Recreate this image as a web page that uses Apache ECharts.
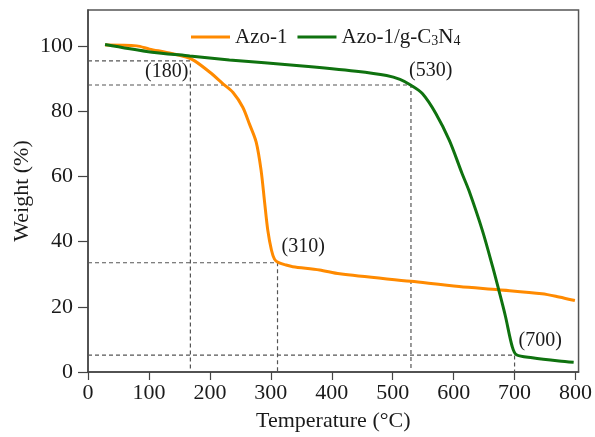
<!DOCTYPE html>
<html>
<head>
<meta charset="utf-8">
<script src="https://cdn.jsdelivr.net/npm/echarts@6/dist/echarts.min.js"></script>
<style>
 html, body { margin: 0; padding: 0; background: #fff; }
 #chart { width: 595px; height: 437px; }
</style>
</head>
<body>
<div id="chart"></div>
<script>
// Azo-1 curve
const tempsAzo = [28, 80, 101, 129, 161, 175, 200, 222, 238, 254, 265, 276, 284, 290, 295, 301, 306, 312, 325, 336, 380, 413, 530, 609, 674, 745, 773, 799]
const weightAzo = [100.3, 100, 99, 98, 96.6, 95.4, 91.9, 88.3, 85.7, 81.2, 76, 70.5, 61.9, 51.7, 43.5, 37.4, 34.6, 33.6, 32.8, 32.3, 31.3, 30.1, 27.8, 26.2, 25.2, 24, 23, 21.9]
// Azo-1/g-C3N4 curve
const tempsComp = [28, 96, 167, 232, 347, 440, 490, 512, 530, 549, 571, 593, 614, 625, 647, 664, 674, 685, 696, 703, 729, 773, 797]
const weightComp = [100.4, 98.3, 96.9, 95.7, 93.9, 92.2, 90.9, 89.7, 87.9, 85.3, 79.2, 71, 60.8, 55.7, 43.5, 32.3, 25.2, 17.1, 7.9, 5.3, 4.4, 3.4, 3.0]
// dashed guide corners and their labels
const refTemps = [168, 311, 530, 700]
const refWeights = [95.4, 33.5, 88.0, 5.2]
const refLabels = ['(180)', '(310)', '(530)', '(700)']
// ticks
const xTicks = [0, 100, 200, 300, 400, 500, 600, 700, 800]
const yTicks = [0, 20, 40, 60, 80, 100]

const FONT = 'Liberation Serif'
const TEXT = '#1a1a1a'
const zip = (xs, ys) => xs.map((x, i) => [x, ys[i]])

// label placement around each guide corner
const labelPlace = [
 { position: 'left', distance: 2, offset: [0, 11] },
 { position: 'right', distance: 4, offset: [0, -16] },
 { position: 'right', distance: -2, offset: [0, -14] },
 { position: 'right', distance: 4, offset: [0, -14] }
]

const guideSeries = refTemps.map((t, i) => ({
 type: 'line',
 data: [[0, refWeights[i]], [t, refWeights[i]], [t, 0]],
 symbol: 'none',
 silent: true,
 z: 1,
 lineStyle: { color: '#555', width: 1.2, type: [4, 3] }
}))

const chart = echarts.init(document.getElementById('chart'))
chart.setOption({
 animation: false,
 grid: { left: 88, right: 15, top: 10, bottom: 64, show: true, borderColor: '#555', borderWidth: 1.5 },
 legend: {
  data: ['Azo-1', 'Azo-1/g-C3N4'],
  left: 186,
  top: 21,
  icon: 'rect',
  itemWidth: 39,
  itemHeight: 3,
  itemGap: 10,
  formatter: name => name === 'Azo-1' ? name : 'Azo-1/g-C{s|3}N{s|4}',
  textStyle: {
   fontFamily: FONT, fontSize: 21, color: TEXT, lineHeight: 22,
   rich: { s: { fontFamily: FONT, fontSize: 14, lineHeight: 12, verticalAlign: 'bottom', color: TEXT } }
  }
 },
 xAxis: {
  type: 'value',
  min: 0,
  max: 805,
  name: 'Temperature (°C)',
  nameLocation: 'middle',
  nameGap: 38,
  nameMoveOverlap: false,
  nameTextStyle: { fontFamily: FONT, fontSize: 22, color: TEXT },
  axisLine: { lineStyle: { color: '#444', width: 1.5 } },
  axisTick: { customValues: xTicks, length: 8, lineStyle: { color: '#444', width: 1.2 } },
  axisLabel: { customValues: xTicks, margin: 10, fontFamily: FONT, fontSize: 22, color: TEXT },
  splitLine: { show: false }
 },
 yAxis: {
  type: 'value',
  min: 0,
  max: 111,
  name: 'Weight (%)',
  nameLocation: 'middle',
  nameGap: 55,
  nameMoveOverlap: false,
  nameTextStyle: { fontFamily: FONT, fontSize: 22, color: TEXT },
  axisLine: { show: true, lineStyle: { color: '#444', width: 1.5 } },
  axisTick: { show: true, customValues: yTicks, length: 10, lineStyle: { color: '#444', width: 1.2 } },
  axisLabel: { customValues: yTicks, margin: 15, fontFamily: FONT, fontSize: 22, color: TEXT },
  splitLine: { show: false }
 },
 series: [
  ...guideSeries,
  {
   name: 'Azo-1',
   type: 'line',
   data: zip(tempsAzo, weightAzo),
   symbol: 'none',
   smooth: 0.3,
   z: 3,
   lineStyle: { color: '#ff8a00', width: 3 },
   itemStyle: { color: '#ff8a00' }
  },
  {
   name: 'Azo-1/g-C3N4',
   type: 'line',
   data: zip(tempsComp, weightComp),
   symbol: 'none',
   smooth: 0.3,
   z: 3,
   lineStyle: { color: '#0f720f', width: 3 },
   itemStyle: { color: '#0f720f' }
  },
  {
   type: 'scatter',
   silent: true,
   symbolSize: 0,
   z: 4,
   itemStyle: { opacity: 1 },
   data: refTemps.map((t, i) => ({
    value: [t, refWeights[i]],
    label: { show: true, formatter: refLabels[i], fontFamily: FONT, fontSize: 20, color: TEXT, ...labelPlace[i] }
   }))
  }
 ]
})
</script>
</body>
</html>
